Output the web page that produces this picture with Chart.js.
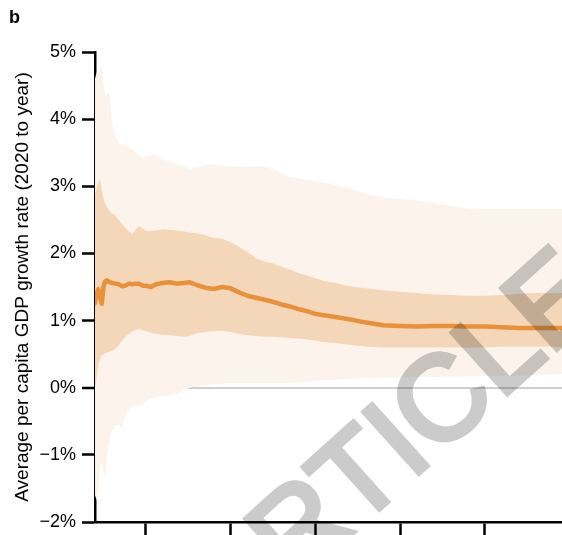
<!DOCTYPE html>
<html>
<head>
<meta charset="utf-8">
<script src="https://cdn.jsdelivr.net/npm/chart.js@4.4.1/dist/chart.umd.min.js"></script>
<style>
  body { margin: 0; background: #fff; }
</style>
</head>
<body>
<canvas id="growth-chart" width="562" height="535"></canvas>
<script>
// years of the projection (2020 to year)
const years = [2020, 2021, 2022, 2023, 2024, 2025, 2026, 2027, 2028, 2029, 2030,
  2032, 2034, 2036, 2038, 2040, 2042, 2044, 2046, 2048, 2050,
  2053, 2056, 2060, 2064, 2068, 2072, 2076, 2080,
  2085, 2090, 2095, 2100, 2105, 2110, 2115, 2120, 2125, 2130, 2135, 2140, 2145, 2150, 2155, 2160,
  2170, 2180, 2190, 2200, 2210, 2220, 2230, 2240, 2250, 2260, 2270, 2280, 2290, 2300];

// median growth rate, %
const median = [1.26, 1.40, 1.47, 1.35, 1.25, 1.50, 1.58, 1.60, 1.58, 1.57, 1.56,
  1.55, 1.54, 1.51, 1.52, 1.55, 1.54, 1.55, 1.55, 1.52, 1.52,
  1.50, 1.54, 1.56, 1.57, 1.55, 1.56, 1.57, 1.53,
  1.49, 1.47, 1.50, 1.48, 1.42, 1.37, 1.34, 1.31, 1.28, 1.24, 1.21, 1.17, 1.14, 1.10, 1.08, 1.06,
  1.02, 0.97, 0.93, 0.92, 0.91, 0.92, 0.92, 0.91, 0.91, 0.90, 0.89, 0.89, 0.89, 0.89];

// likely range (inner band)
const innerUpper = [2.85, 3.00, 3.05, 3.12, 2.95, 2.82, 2.75, 2.70, 2.66, 2.62, 2.60,
  2.57, 2.50, 2.44, 2.38, 2.33, 2.29, 2.36, 2.41, 2.37, 2.34,
  2.33, 2.34, 2.36, 2.35, 2.34, 2.33, 2.31, 2.30,
  2.27, 2.23, 2.22, 2.17, 2.10, 2.02, 1.93, 1.88, 1.85, 1.80, 1.76, 1.71, 1.67, 1.63, 1.59, 1.57,
  1.51, 1.48, 1.45, 1.43, 1.41, 1.39, 1.38, 1.37, 1.37, 1.38, 1.40, 1.41, 1.41, 1.41];
const innerLower = [0.00, 0.15, 0.35, 0.42, 0.48, 0.50, 0.51, 0.52, 0.53, 0.54, 0.55,
  0.58, 0.63, 0.70, 0.76, 0.80, 0.84, 0.86, 0.88, 0.86, 0.84,
  0.82, 0.80, 0.79, 0.78, 0.77, 0.76, 0.77, 0.81,
  0.83, 0.84, 0.85, 0.83, 0.80, 0.78, 0.77, 0.76, 0.76, 0.75, 0.74, 0.73, 0.72, 0.70, 0.68, 0.67,
  0.64, 0.61, 0.60, 0.60, 0.60, 0.60, 0.60, 0.60, 0.60, 0.61, 0.61, 0.61, 0.61, 0.60];

// very likely range (outer band)
const outerUpper = [4.60, 4.70, 4.68, 4.75, 4.78, 4.55, 4.35, 4.38, 4.40, 4.30, 3.95,
  3.75, 3.65, 3.63, 3.60, 3.57, 3.54, 3.50, 3.47, 3.42, 3.43,
  3.47, 3.47, 3.40, 3.37, 3.34, 3.30, 3.26, 3.28,
  3.32, 3.33, 3.31, 3.30, 3.29, 3.29, 3.30, 3.30, 3.25, 3.19, 3.14, 3.12, 3.10, 3.07, 3.05, 3.03,
  2.97, 2.89, 2.83, 2.81, 2.79, 2.75, 2.71, 2.67, 2.66, 2.66, 2.66, 2.66, 2.66, 2.66];
const outerLower = [-1.60, -1.68, -1.50, -1.20, -1.13, -1.25, -1.34, -1.05, -0.85, -0.72, -0.64,
  -0.56, -0.55, -0.61, -0.40, -0.32, -0.28, -0.27, -0.27, -0.26, -0.20,
  -0.16, -0.15, -0.13, -0.11, -0.09, -0.05, 0.00, 0.02,
  0.03, 0.05, 0.06, 0.07, 0.07, 0.07, 0.07, 0.07, 0.07, 0.07, 0.07, 0.08, 0.09, 0.10, 0.11, 0.12,
  0.13, 0.14, 0.15, 0.15, 0.16, 0.16, 0.17, 0.17, 0.18, 0.18, 0.18, 0.19, 0.20, 0.21];

const xTicks = [2050, 2100, 2150, 2200, 2250];
const yTicks = [-2, -1, 0, 1, 2, 3, 4, 5];

function pts(arr) {
  return years.map((yr, i) => ({ x: yr, y: arr[i] }));
}

const FONT = "'Liberation Sans', Arial, Helvetica, sans-serif";

// panel letter + watermark
const extras = {
  id: "extras",
  afterDraw(chart) {
    const ctx = chart.ctx;
    ctx.save();
    ctx.fillStyle = "#000";
    ctx.font = "bold 18px " + FONT;
    ctx.textBaseline = "alphabetic";
    ctx.fillText("b", 9, 23);

    // watermark drawn on its own canvas, then multiplied in once
    const off = document.createElement("canvas");
    off.width = chart.width;
    off.height = chart.height;
    const o = off.getContext("2d");
    o.translate(234, 640);
    o.rotate(-42 * Math.PI / 180);
    o.font = "120px " + FONT;
    o.fillStyle = "#cbcbcb";
    o.strokeStyle = "#cbcbcb";
    o.lineWidth = 5;
    o.fillText("ARTICLE", 0, 0);
    o.strokeText("ARTICLE", 0, 0);
    ctx.globalCompositeOperation = "multiply";
    ctx.drawImage(off, 0, 0);
    ctx.restore();
  },
};

new Chart(document.getElementById("growth-chart"), {
  type: "line",
  data: {
    datasets: [
      {
        label: "Median",
        data: pts(median),
        borderColor: "#e8913a",
        borderWidth: 4.5,
        borderJoinStyle: "round",
        borderCapStyle: "round",
        pointRadius: 0,
        fill: false,
      },
      {
        label: "inner low",
        data: pts(innerLower),
        borderWidth: 0,
        pointRadius: 0,
        fill: false,
      },
      {
        label: "inner high",
        data: pts(innerUpper),
        borderWidth: 0,
        pointRadius: 0,
        backgroundColor: "#f4d7b9",
        fill: 1,
      },
      {
        label: "outer low",
        data: pts(outerLower),
        borderWidth: 0,
        pointRadius: 0,
        fill: false,
      },
      {
        label: "outer high",
        data: pts(outerUpper),
        borderWidth: 0,
        pointRadius: 0,
        backgroundColor: "#fcf4ec",
        fill: 3,
      },
    ],
  },
  options: {
    responsive: false,
    animation: false,
    devicePixelRatio: 1,
    layout: { padding: { top: 52, right: 0, bottom: 0, left: 0 } },
    plugins: {
      legend: { display: false },
      tooltip: { enabled: false },
    },
    scales: {
      x: {
        type: "linear",
        min: 2020,
        max: 2295.5,
        afterBuildTicks: (scale) => {
          scale.ticks = xTicks.map((v) => ({ value: v }));
        },
        afterFit: (scale) => {
          scale.height = 13;
        },
        ticks: { display: false },
        grid: {
          drawOnChartArea: false,
          tickLength: 13,
          tickColor: "#000",
          tickWidth: 2.5,
        },
        border: { color: "#000", width: 2.5 },
      },
      y: {
        min: -2,
        max: 5,
        z: 1,
        afterBuildTicks: (scale) => {
          scale.ticks = yTicks.map((v) => ({ value: v }));
        },
        afterFit: (scale) => {
          scale.width = 95;
          scale.paddingTop = 0;
          scale.paddingBottom = 0;
        },
        ticks: {
          padding: 6,
          color: "#000",
          font: { family: FONT, size: 18 },
          callback: (v) => (v < 0 ? "\u2212" + Math.abs(v) : v) + "%",
        },
        grid: {
          tickLength: 13,
          tickColor: "#000",
          tickWidth: 2.5,
          color: (c) => {
            const v = c.tick ? c.tick.value : null;
            if (v === 0) return "#cfcfcf";
            if (v === -2 || v === 5) return "rgba(0,0,0,0)";
            return "rgba(255,255,255,0.35)";
          },
          lineWidth: (c) => (c.tick && c.tick.value === 0 ? 2 : 1),
        },
        border: { color: "#000", width: 2.5 },
        title: {
          display: true,
          text: "Average per capita GDP growth rate (2020 to year)",
          color: "#000",
          font: { family: FONT, size: 19 },
          padding: { top: 11, bottom: 0 },
        },
      },
    },
  },
  plugins: [extras],
});
</script>
</body>
</html>
